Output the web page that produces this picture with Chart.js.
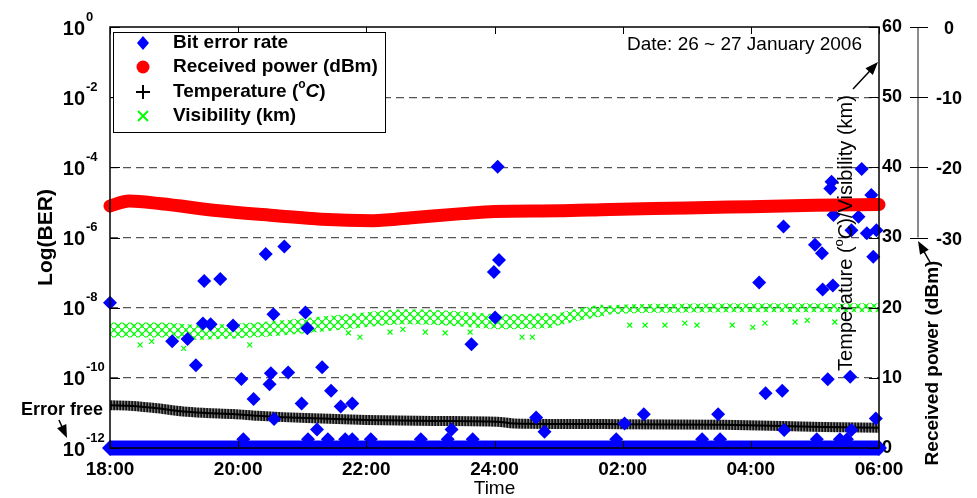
<!DOCTYPE html>
<html>
<head>
<meta charset="utf-8">
<script src="https://cdn.jsdelivr.net/npm/chart.js@4.4.1/dist/chart.umd.min.js"></script>
<style>
  html, body { margin: 0; padding: 0; background: #fff; }
  #wrap { width: 977px; height: 498px; }
</style>
</head>
<body>
<div id="wrap"><canvas id="berChart" width="977" height="498"></canvas></div>
<script>
const timeLabels = ['18:00', '20:00', '22:00', '24:00', '02:00', '04:00', '06:00'];
const berTickExp = [0, -2, -4, -6, -8, -10, -12];
const powerTicks = [0, -10, -20, -30];

// bit error rate: hours after 18:00, log10(BER)
const berHours = [0.00, 0.97, 1.21, 1.34, 1.45, 1.57, 1.47, 1.72, 1.92, 2.05, 2.24, 2.43, 2.72, 2.51, 2.49, 2.55, 2.78, 2.56, 2.99, 3.05,
  3.08, 3.23, 3.31, 3.45, 3.60, 3.78, 5.33, 5.64, 5.99, 6.05, 6.07, 6.01, 6.65, 6.78, 8.03, 8.33, 9.49, 10.13, 10.23, 10.49,
  10.51, 10.52, 11.00, 11.11, 11.12, 11.20, 11.24, 11.26, 11.28, 11.29, 11.55, 11.57, 11.57, 11.68, 11.73, 11.81, 11.88, 11.91, 11.95, 11.96];
const berLog = [-7.86, -8.96, -8.89, -9.64, -8.45, -8.47, -7.24, -7.18, -8.51, -10.03, -10.60, -6.47, -6.26, -9.87, -10.18, -8.19, -9.85, -11.17, -10.73, -8.14,
  -8.59, -11.47, -9.70, -10.37, -10.82, -10.73, -11.47, -9.04, -6.98, -3.98, -6.64, -8.28, -11.13, -11.54, -11.30, -11.04, -11.04, -7.28, -10.44, -10.37,
  -5.69, -11.49, -6.21, -6.45, -7.48, -10.04, -4.60, -4.41, -7.37, -5.36, -9.97, -5.79, -11.49, -5.41, -4.05, -5.88, -4.79, -6.55, -11.16, -5.79];
// points sitting just above the error free floor
const berFloorHours = [2.08, 3.09, 3.40, 3.67, 3.78, 4.07, 4.85, 5.27, 5.66, 7.90, 9.24, 9.52, 11.03, 11.39, 11.50];
const berFloorLog = [-11.75, -11.75, -11.75, -11.75, -11.75, -11.75, -11.75, -11.75, -11.75, -11.75, -11.75, -11.75, -11.75, -11.75, -11.75];
// error free periods are plotted at 1e-12
const errorFreeHours = [0, 12];
const errorFreeBer = [1e-12, 1e-12];

const powerHours = [0, 0.3, 0.8, 1.7, 2.6, 3.3, 4.1, 4.8, 5.5, 6.0, 7.0, 7.8, 9.0, 10.0, 11.0, 12.0];
const powerDbm = [-25.5, -24.8, -25.2, -26.2, -26.9, -27.4, -27.6, -27.1, -26.6, -26.3, -26.2, -26.0, -25.8, -25.6, -25.4, -25.3];

const tempHours = [0, 0.36, 0.7, 1.14, 1.5, 1.92, 2.3, 2.7, 3.3, 4.0, 5.04, 6.04, 6.3, 8.0, 9.57, 10.5, 11.13, 12.0];
const tempC = [6.1, 6.0, 5.7, 5.2, 5.0, 4.85, 4.6, 4.4, 4.2, 4.0, 3.85, 3.75, 3.5, 3.4, 3.3, 3.15, 3.0, 2.9];

const visHours = [0, 0.8, 1.4, 2.2, 3.0, 3.8, 4.6, 5.3, 6.1, 6.9, 7.3, 7.7, 8.5, 10.0, 12.0];
const visKm = [16.8, 16.8, 16.5, 16.8, 17.4, 18.1, 18.7, 18.5, 18.0, 18.2, 19.0, 19.6, 19.9, 20.0, 20.0];
const visOutHours = [0.47, 0.65, 1.15, 2.18, 3.72, 3.9, 4.37, 4.57, 4.92, 5.23, 5.62, 6.43, 6.59, 8.11, 8.35, 8.66, 8.97, 9.16, 9.71, 10.03, 10.22, 10.69, 10.88, 11.31];
const visOutKm = [14.7, 15.2, 14.2, 14.7, 16.4, 15.8, 16.5, 16.9, 16.5, 16.4, 16.5, 15.8, 15.8, 17.5, 17.5, 17.5, 17.8, 17.5, 17.5, 17.2, 17.8, 17.96, 18.2, 17.96];

const FONT = "'Liberation Sans', Arial, sans-serif";

function pts(xs, ys) {
  return xs.map((x, i) => ({ x: x, y: ys[i] }));
}

// dense '+' markers look like a striped band
function stripePattern() {
  const c = document.createElement('canvas');
  c.width = 3; c.height = 4;
  const g = c.getContext('2d');
  g.fillStyle = '#111'; g.fillRect(0, 0, 1, 4);
  g.fillStyle = '#7a7a7a'; g.fillRect(1, 0, 1, 4);
  g.fillStyle = '#333'; g.fillRect(2, 0, 1, 4);
  return g.createPattern(c, 'repeat');
}

// dense 'x' markers
function crossPattern() {
  const c = document.createElement('canvas');
  c.width = 8; c.height = 8;
  const g = c.getContext('2d');
  g.strokeStyle = '#00ff00';
  g.lineWidth = 1.4;
  [[2, 2], [6, 6]].forEach(p => {
    g.beginPath();
    g.moveTo(p[0] - 2, p[1] - 2); g.lineTo(p[0] + 2, p[1] + 2);
    g.moveTo(p[0] - 2, p[1] + 2); g.lineTo(p[0] + 2, p[1] - 2);
    g.stroke();
  });
  return g.createPattern(c, 'repeat');
}

function arrow(ctx, x1, y1, x2, y2) {
  const a = Math.atan2(y2 - y1, x2 - x1), L = 13, W = 5;
  ctx.beginPath();
  ctx.moveTo(x1, y1);
  ctx.lineTo(x2 - L * 0.8 * Math.cos(a), y2 - L * 0.8 * Math.sin(a));
  ctx.stroke();
  ctx.beginPath();
  ctx.moveTo(x2, y2);
  ctx.lineTo(x2 - L * Math.cos(a) + W * Math.sin(a), y2 - L * Math.sin(a) - W * Math.cos(a));
  ctx.lineTo(x2 - L * Math.cos(a) - W * Math.sin(a), y2 - L * Math.sin(a) + W * Math.cos(a));
  ctx.closePath();
  ctx.fill();
}

// draws text pieces in a row: [text, font, dy]
function pieces(ctx, parts, x, y, center) {
  let w = 0;
  parts.forEach(p => { ctx.font = p[1]; w += ctx.measureText(p[0]).width; });
  let cx = center ? x - w / 2 : x;
  ctx.textAlign = 'left';
  parts.forEach(p => {
    ctx.font = p[1];
    ctx.fillText(p[0], cx, y + (p[2] || 0));
    cx += ctx.measureText(p[0]).width;
  });
}

const extras = {
  id: 'extras',
  afterDatasetsDraw(chart) {
    const { ctx, chartArea: a, scales } = chart;
    ctx.save();
    ctx.strokeStyle = '#000';
    ctx.lineWidth = 1;
    scales.x.ticks.forEach(t => {
      const px = Math.round(scales.x.getPixelForValue(t.value)) + 0.5;
      ctx.beginPath();
      ctx.moveTo(px, a.bottom); ctx.lineTo(px, a.bottom - 7);
      ctx.moveTo(px, a.top); ctx.lineTo(px, a.top + 7);
      ctx.stroke();
    });
    scales.yT.ticks.forEach(t => {
      const py = Math.round(scales.yT.getPixelForValue(t.value)) + 0.5;
      ctx.beginPath();
      ctx.moveTo(a.left, py); ctx.lineTo(a.left + 10, py);
      ctx.moveTo(a.right, py); ctx.lineTo(a.right - 10, py);
      ctx.stroke();
    });
    ctx.lineWidth = 1.5;
    ctx.strokeRect(a.left, a.top, a.right - a.left, a.bottom - a.top);
    ctx.restore();
  },
  afterDraw(chart) {
    const { ctx, chartArea: a, scales } = chart;
    ctx.save();
    ctx.fillStyle = '#000';
    ctx.textBaseline = 'middle';

    // left log axis labels
    berTickExp.forEach(e => {
      const py = scales.yBer.getPixelForValue(Math.pow(10, e));
      ctx.font = 'bold 20px ' + FONT;
      ctx.textAlign = 'right';
      ctx.fillText('10', 85, py + 2);
      ctx.font = 'bold 13px ' + FONT;
      ctx.textAlign = 'left';
      ctx.fillText(String(e), 86, py - 10);
    });

    // second right axis: received power
    const ax = a.right + 39;
    const p0 = scales.yPow.getPixelForValue(powerTicks[0]);
    const p1 = scales.yPow.getPixelForValue(powerTicks[powerTicks.length - 1]);
    ctx.strokeStyle = '#666';
    ctx.lineWidth = 1.5;
    ctx.beginPath(); ctx.moveTo(ax, p0); ctx.lineTo(ax, p1); ctx.stroke();
    ctx.strokeStyle = '#000';
    ctx.lineWidth = 1;
    ctx.font = 'bold 18px ' + FONT;
    ctx.textAlign = 'center';
    powerTicks.forEach(v => {
      const py = Math.round(scales.yPow.getPixelForValue(v)) + 0.5;
      ctx.beginPath(); ctx.moveTo(ax - 8, py); ctx.lineTo(ax + 10, py); ctx.stroke();
      ctx.fillText(String(v), ax + 31, py + 2);
    });

    // axis titles
    ctx.save();
    ctx.translate(46, (a.top + a.bottom) / 2);
    ctx.rotate(-Math.PI / 2);
    ctx.font = 'bold 21px ' + FONT;
    ctx.textAlign = 'center';
    ctx.fillText('Log(BER)', 0, 0);
    ctx.restore();

    ctx.save();
    ctx.translate(846, 233);
    ctx.rotate(-Math.PI / 2);
    pieces(ctx, [
      ['Temperature (', '20px ' + FONT],
      ['o', '13px ' + FONT, -7],
      ['C', 'italic 20px ' + FONT],
      [')/Visibility (km)', '20px ' + FONT]
    ], 0, 0, true);
    ctx.restore();

    ctx.save();
    ctx.translate(933, 363);
    ctx.rotate(-Math.PI / 2);
    ctx.font = 'bold 19px ' + FONT;
    ctx.textAlign = 'center';
    ctx.fillText('Received power (dBm)', 0, 0);
    ctx.restore();

    ctx.font = "19px 'Liberation Sans Narrow', " + FONT;
    ctx.textAlign = 'center';
    ctx.fillText('Time', (a.left + a.right) / 2, 489);

    ctx.font = '19px ' + FONT;
    ctx.textAlign = 'right';
    ctx.fillText('Date: 26 ~ 27 January 2006', 862, 45);

    ctx.font = 'bold 18px ' + FONT;
    ctx.textAlign = 'center';
    ctx.fillText('Error free', 62, 410);

    // arrows
    ctx.strokeStyle = '#000';
    ctx.lineWidth = 1.5;
    arrow(ctx, 59, 420, 67, 438);
    arrow(ctx, 853, 89, a.right - 1, scales.yT.getPixelForValue(55));
    arrow(ctx, 931, 264, ax, scales.yPow.getPixelForValue(-30.5));

    // legend
    const lx = 113, ly = 32, lw = 272, lh = 100;
    ctx.fillStyle = '#fff';
    ctx.fillRect(lx, ly, lw, lh);
    ctx.strokeStyle = '#000';
    ctx.lineWidth = 1;
    ctx.strokeRect(lx + 0.5, ly + 0.5, lw, lh);
    const sx = 143, tx = 173, rows = [43, 67, 92, 116];
    ctx.fillStyle = '#0000ff';
    ctx.beginPath();
    ctx.moveTo(sx, rows[0] - 7); ctx.lineTo(sx + 6, rows[0]); ctx.lineTo(sx, rows[0] + 7); ctx.lineTo(sx - 6, rows[0]);
    ctx.closePath(); ctx.fill();
    ctx.fillStyle = '#ff0000';
    ctx.beginPath(); ctx.arc(sx, rows[1], 6.5, 0, Math.PI * 2); ctx.fill();
    ctx.strokeStyle = '#000'; ctx.lineWidth = 2;
    ctx.beginPath();
    ctx.moveTo(sx - 7, rows[2]); ctx.lineTo(sx + 7, rows[2]);
    ctx.moveTo(sx, rows[2] - 7); ctx.lineTo(sx, rows[2] + 7);
    ctx.stroke();
    ctx.strokeStyle = '#00ff00'; ctx.lineWidth = 2;
    ctx.beginPath();
    ctx.moveTo(sx - 5, rows[3] - 5); ctx.lineTo(sx + 5, rows[3] + 5);
    ctx.moveTo(sx - 5, rows[3] + 5); ctx.lineTo(sx + 5, rows[3] - 5);
    ctx.stroke();
    ctx.fillStyle = '#000';
    ctx.font = 'bold 19px ' + FONT;
    ctx.textAlign = 'left';
    ctx.fillText('Bit error rate', tx, rows[0]);
    ctx.fillText('Received power (dBm)', tx, rows[1]);
    pieces(ctx, [
      ['Temperature (', 'bold 19px ' + FONT],
      ['o', 'bold 12px ' + FONT, -7],
      ['C', 'italic bold 19px ' + FONT],
      [')', 'bold 19px ' + FONT]
    ], tx, rows[2], false);
    ctx.font = 'bold 19px ' + FONT;
    ctx.fillText('Visibility (km)', tx, rows[3]);
    ctx.restore();
  }
};

const ctx = document.getElementById('berChart').getContext('2d');
const berChart = new Chart(ctx, {
  data: {
    datasets: [
      {
        type: 'line',
        label: 'Error free',
        data: pts(errorFreeHours, errorFreeBer),
        yAxisID: 'yBer',
        borderColor: '#0000ff',
        borderWidth: 15,
        pointStyle: 'rectRot',
        pointRadius: 8,
        backgroundColor: '#0000ff',
        pointBorderWidth: 0,
        clip: false,
        order: 5
      },
      {
        type: 'scatter',
        label: 'Bit error rate',
        data: pts(berHours.concat(berFloorHours), berLog.concat(berFloorLog).map(v => Math.pow(10, v))),
        yAxisID: 'yBer',
        pointStyle: 'rectRot',
        pointRadius: 7,
        backgroundColor: '#0000ff',
        borderWidth: 0,
        clip: false,
        order: 2
      },
      {
        type: 'line',
        label: 'Received power (dBm)',
        data: pts(powerHours, powerDbm),
        yAxisID: 'yPow',
        borderColor: '#ff0000',
        borderWidth: 13,
        borderCapStyle: 'round',
        cubicInterpolationMode: 'monotone',
        pointRadius: 0,
        clip: false,
        order: 1
      },
      {
        type: 'line',
        label: 'Temperature',
        data: pts(tempHours, tempC),
        yAxisID: 'yT',
        borderColor: stripePattern(),
        borderWidth: 10,
        cubicInterpolationMode: 'monotone',
        pointRadius: 0,
        order: 4
      },
      {
        type: 'line',
        label: 'Temperature core',
        data: pts(tempHours, tempC),
        yAxisID: 'yT',
        borderColor: '#000',
        borderWidth: 2,
        cubicInterpolationMode: 'monotone',
        pointRadius: 0,
        order: 3
      },
      {
        type: 'line',
        label: 'Visibility (km)',
        data: pts(visHours, visKm),
        yAxisID: 'yT',
        borderColor: crossPattern(),
        borderWidth: 15,
        cubicInterpolationMode: 'monotone',
        segment: {
          borderWidth: c => visHours[c.p0DataIndex] < 6.9 ? 15 : (visHours[c.p0DataIndex] < 7.7 ? 12 : 9)
        },
        pointRadius: 0,
        order: 4
      },
      {
        type: 'scatter',
        label: 'Visibility outliers',
        data: pts(visOutHours, visOutKm),
        yAxisID: 'yT',
        pointStyle: 'crossRot',
        pointRadius: 3.5,
        borderColor: '#00ff00',
        borderWidth: 1.2,
        order: 4
      }
    ]
  },
  options: {
    responsive: false,
    animation: false,
    layout: { padding: { left: 110, right: 58, top: 27, bottom: 0 } },
    plugins: { legend: { display: false }, tooltip: { enabled: false } },
    scales: {
      x: {
        type: 'linear',
        position: 'bottom',
        min: 0,
        max: 12,
        grid: { display: false },
        border: { display: false },
        ticks: {
          stepSize: 2,
          padding: 2,
          autoSkip: false,
          maxRotation: 0,
          color: '#000',
          font: { family: FONT, size: 19, weight: 'bold' },
          callback: v => timeLabels[Math.round(v / 2)]
        },
        afterFit: s => { s.height = 50; }
      },
      yBer: { type: 'logarithmic', min: 1e-12, max: 1, display: false },
      yT: {
        type: 'linear',
        position: 'right',
        min: 0,
        max: 60,
        grid: {
          drawTicks: false,
          lineWidth: 1.2,
          color: c => (c.tick.value > 0 && c.tick.value < 60) ? '#555' : 'rgba(0,0,0,0)'
        },
        border: { display: false, dash: [8, 5] },
        ticks: {
          stepSize: 10,
          padding: 3,
          color: '#000',
          font: { family: FONT, size: 18, weight: 'bold' }
        },
        afterFit: s => { s.width = 40; }
      },
      yPow: { type: 'linear', min: -60, max: 0, display: false }
    }
  },
  plugins: [extras]
});
</script>
</body>
</html>
